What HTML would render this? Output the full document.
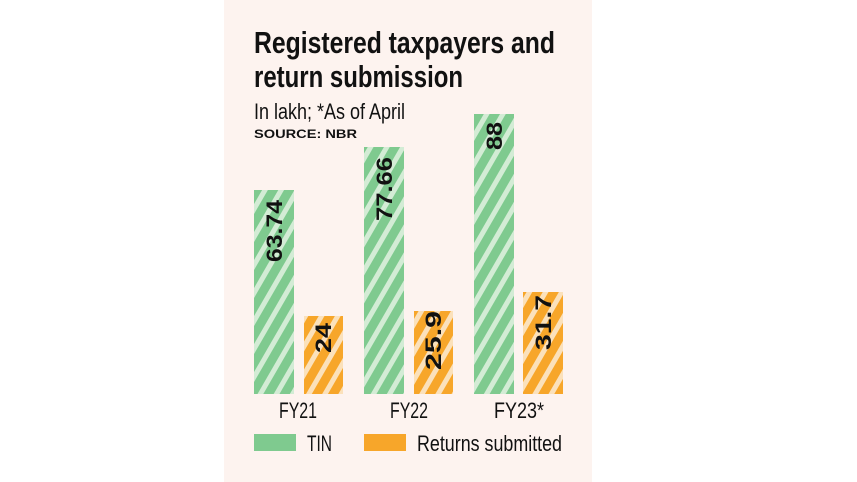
<!DOCTYPE html>
<html><head><meta charset="utf-8"><style>
html,body{margin:0;padding:0;background:#fff;}
svg{display:block;}
</style></head><body>
<svg width="857" height="482" xmlns="http://www.w3.org/2000/svg">
<defs>
<pattern id="g" width="14" height="14" patternUnits="userSpaceOnUse" patternTransform="rotate(30)">
<rect width="14" height="14" fill="#7fca8f"/><rect width="5" height="14" fill="#d3ecd5"/>
</pattern>
<pattern id="o" width="14" height="14" patternUnits="userSpaceOnUse" patternTransform="rotate(30)">
<rect width="14" height="14" fill="#f7a62a"/><rect width="5" height="14" fill="#fbe1bb"/>
</pattern>
</defs>
<rect x="224" y="0" width="368" height="482" fill="#fdf3ef"/>
<g font-family="Liberation Sans, sans-serif" fill="#111">
<text x="254" y="53" font-size="31" font-weight="bold" textLength="301" lengthAdjust="spacingAndGlyphs">Registered taxpayers and</text>
<text x="254" y="87" font-size="31" font-weight="bold" textLength="209" lengthAdjust="spacingAndGlyphs">return submission</text>
<text x="254" y="119" font-size="22" textLength="151" lengthAdjust="spacingAndGlyphs">In lakh; *As of April</text>
<text x="254" y="138" font-size="12" font-weight="bold" textLength="103" lengthAdjust="spacingAndGlyphs">SOURCE: NBR</text>
</g>
<rect x="254" y="190" width="40" height="204" fill="url(#g)"/>
<rect x="364" y="147" width="40" height="247" fill="url(#g)"/>
<rect x="474" y="114" width="40" height="280" fill="url(#g)"/>
<rect x="304" y="316" width="39" height="78" fill="url(#o)"/>
<rect x="414" y="311" width="39" height="83" fill="url(#o)"/>
<rect x="523" y="292" width="40" height="102" fill="url(#o)"/>
<g font-family="Liberation Sans, sans-serif" font-weight="bold" font-size="22" fill="#111">
<text transform="translate(282,262) rotate(-90)" textLength="62" lengthAdjust="spacingAndGlyphs">63.74</text>
<text transform="translate(392,221) rotate(-90)" textLength="64" lengthAdjust="spacingAndGlyphs">77.66</text>
<text transform="translate(502,150) rotate(-90)" textLength="28" lengthAdjust="spacingAndGlyphs">88</text>
<text transform="translate(331,353) rotate(-90)" textLength="30" lengthAdjust="spacingAndGlyphs">24</text>
<text transform="translate(441,370) rotate(-90)" textLength="59" lengthAdjust="spacingAndGlyphs">25.9</text>
<text transform="translate(551,350) rotate(-90)" textLength="55" lengthAdjust="spacingAndGlyphs">31.7</text>
</g>
<g font-family="Liberation Sans, sans-serif" font-size="22" fill="#111">
<text x="279" y="418" textLength="38" lengthAdjust="spacingAndGlyphs">FY21</text>
<text x="390" y="418" textLength="38" lengthAdjust="spacingAndGlyphs">FY22</text>
<text x="494" y="418" textLength="50" lengthAdjust="spacingAndGlyphs">FY23*</text>
<rect x="254" y="434" width="42" height="17" fill="#7fca8f"/>
<text x="307" y="451" textLength="25" lengthAdjust="spacingAndGlyphs">TIN</text>
<rect x="364" y="434" width="42" height="17" fill="#f7a62a"/>
<text x="417" y="451" textLength="145" lengthAdjust="spacingAndGlyphs">Returns submitted</text>
</g>
</svg>
</body></html>
